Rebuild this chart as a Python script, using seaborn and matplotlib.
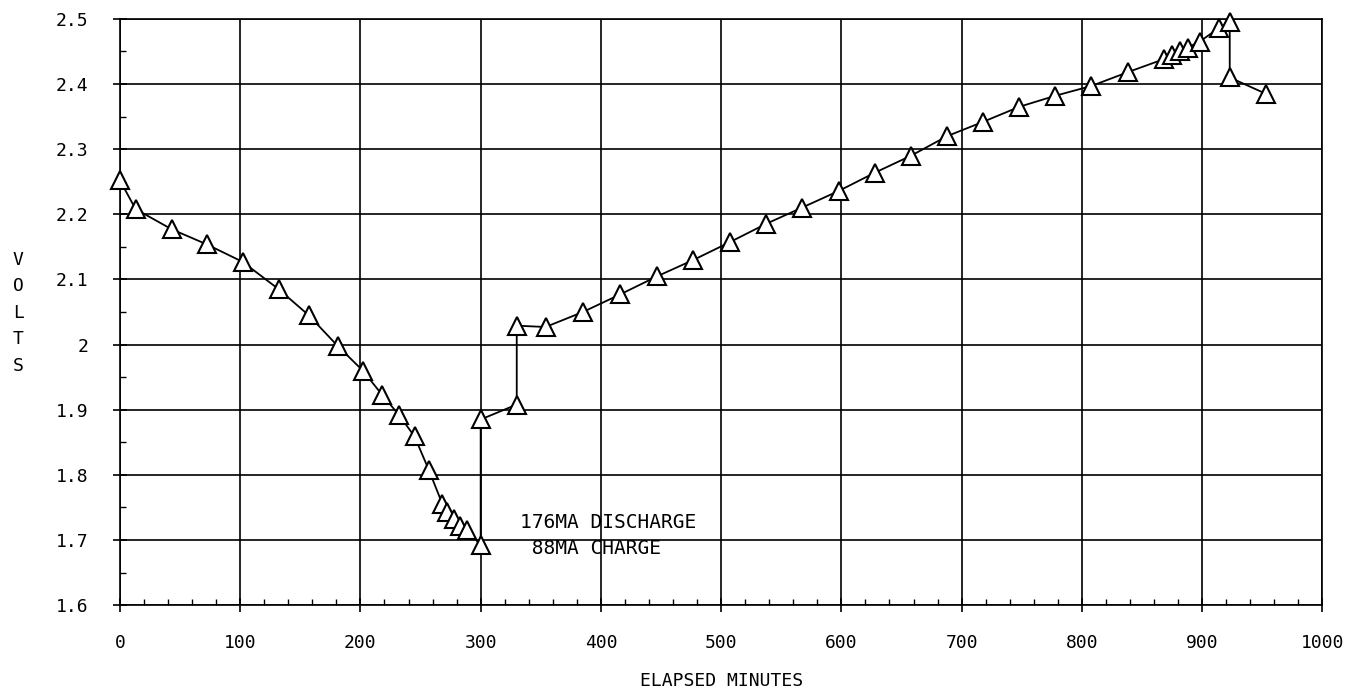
import matplotlib
matplotlib.use("Agg")
import matplotlib.pyplot as plt
import seaborn as sns
import pandas as pd
from matplotlib.ticker import MultipleLocator

# elapsed minutes and cell voltage
minutes = [0, 13, 43, 72, 102, 132, 157, 181, 202, 218, 232, 245, 257,
           268, 272, 278, 283, 289, 300,
           300, 330, 330, 354, 385, 416, 447, 477, 507, 537, 567, 598,
           628, 658, 688, 718, 748, 778, 808, 838, 868, 875, 882, 888,
           898, 914, 923, 923, 953]
volts = [2.252, 2.208, 2.177, 2.154, 2.127, 2.085, 2.045, 1.998, 1.96,
         1.923, 1.892, 1.859, 1.807, 1.756, 1.743, 1.733, 1.722, 1.715, 1.692,
         1.885, 1.908, 2.029, 2.027, 2.05, 2.077, 2.105, 2.13, 2.157, 2.185,
         2.21, 2.236, 2.264, 2.29, 2.32, 2.342, 2.365, 2.382, 2.397, 2.418,
         2.438, 2.445, 2.45, 2.456, 2.465, 2.486, 2.495, 2.41, 2.385]

x_ticks = [0, 100, 200, 300, 400, 500, 600, 700, 800, 900, 1000]
y_ticks = [1.6, 1.7, 1.8, 1.9, 2.0, 2.1, 2.2, 2.3, 2.4, 2.5]
y_tick_labels = ["1.6", "1.7", "1.8", "1.9", "2", "2.1", "2.2", "2.3", "2.4", "2.5"]

df = pd.DataFrame({"Minutes": minutes, "Volts": volts})

sns.set_style("white")
plt.rcParams["font.family"] = ["DejaVu Sans Mono"]
plt.rcParams["text.color"] = "black"
plt.rcParams["axes.labelcolor"] = "black"
plt.rcParams["xtick.color"] = "black"
plt.rcParams["ytick.color"] = "black"

fig = plt.figure(figsize=(13.54, 6.98), dpi=100)
ax = fig.add_axes([0.0886, 0.133, 0.888, 0.84])

sns.lineplot(data=df, x="Minutes", y="Volts", sort=False, estimator=None,
             color="black", linewidth=1.3, marker="^", markersize=13,
             markerfacecolor="white", markeredgecolor="black",
             markeredgewidth=1.5, ax=ax, zorder=3, clip_on=False)

ax.set_xlim(0, 1000)
ax.set_ylim(1.6, 2.5)
ax.set_xticks(x_ticks)
ax.set_xticklabels([str(t) for t in x_ticks])
ax.set_yticks(y_ticks)
ax.set_yticklabels(y_tick_labels)
ax.xaxis.set_minor_locator(MultipleLocator(20))
ax.yaxis.set_minor_locator(MultipleLocator(0.05))
ax.grid(True, which="major", color="black", linewidth=1.2)
ax.tick_params(axis="both", which="both", bottom=True, left=True,
               top=False, right=False)
ax.tick_params(axis="both", which="major", direction="inout", length=10,
               width=1.2, labelsize=13, color="black", labelcolor="black")
ax.tick_params(axis="x", which="major", pad=16)
ax.tick_params(axis="y", which="major", pad=18)
ax.tick_params(axis="both", which="minor", direction="in", length=4,
               width=1, color="black")
for s in ax.spines.values():
    s.set_color("black")
    s.set_linewidth(1.2)

ax.set_xlabel("ELAPSED MINUTES", fontsize=13, labelpad=14, color="black")
ax.set_ylabel("")
fig.text(0.0135, 0.552, "V\nO\nL\nT\nS", fontsize=13, ha="center",
         va="center", linespacing=1.6, color="black")

ax.text(333, 1.727, "176MA DISCHARGE", fontsize=14, ha="left", va="center",
        color="black")
ax.text(333, 1.687, " 88MA CHARGE", fontsize=14, ha="left", va="center",
        color="black")

fig.savefig("out.png", dpi=100)
